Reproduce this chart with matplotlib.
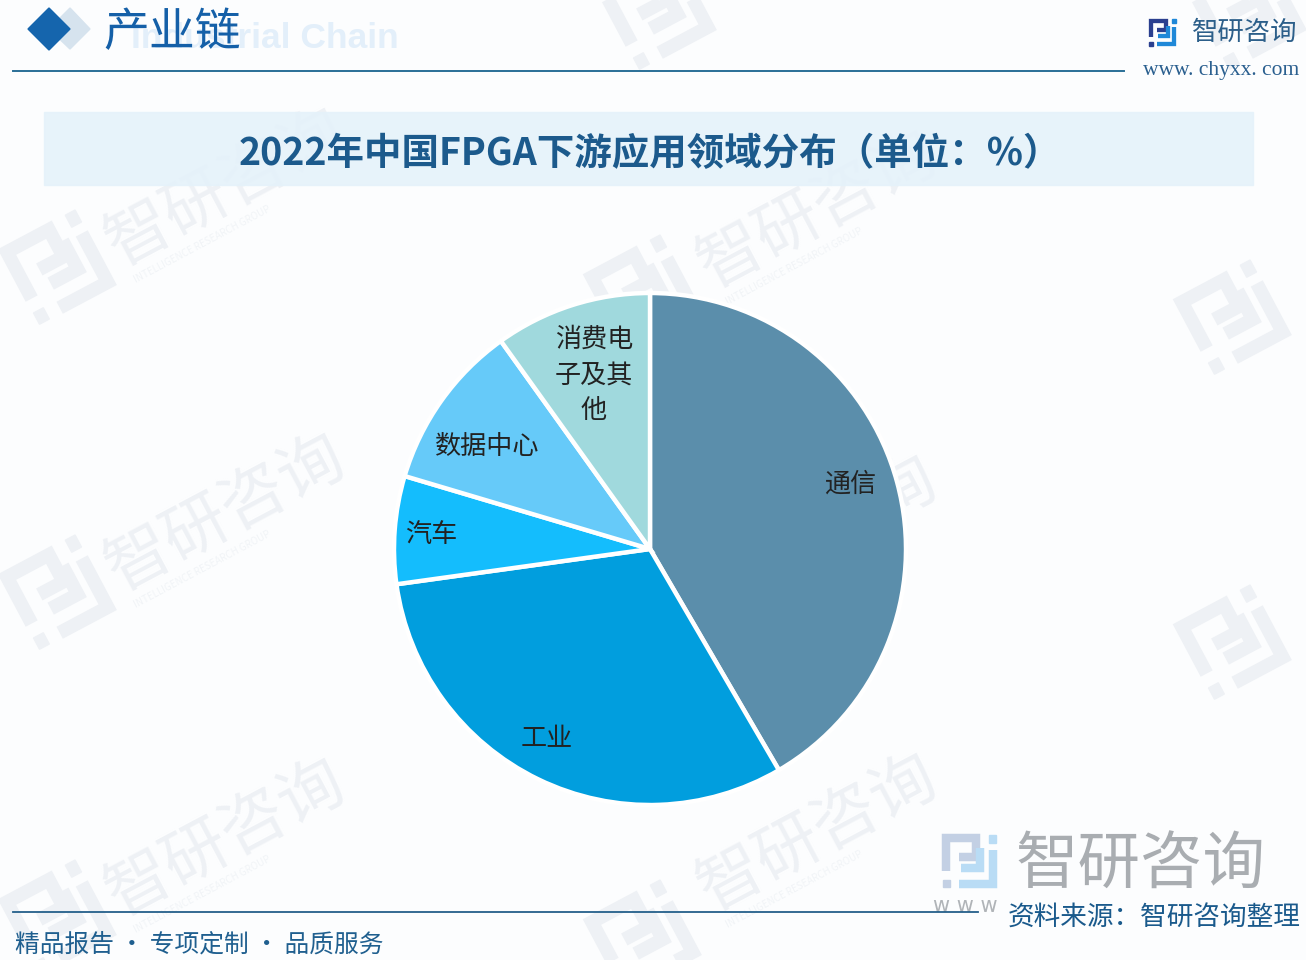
import matplotlib
matplotlib.use('Agg')
import matplotlib.pyplot as plt
from matplotlib.patches import Polygon, Rectangle
from matplotlib.transforms import Affine2D

plt.rcParams['font.family'] = ['Noto Sans CJK SC', 'DejaVu Sans']

categories = ['通信', '工业', '汽车', '数据中心', '消费电\n子及其\n他']
shares = [41.6, 31.2, 6.8, 10.5, 9.9]
colors = ['#5b8eab', '#019ede', '#14bdfd', '#66caf9', '#a0d9dd']
label_pos = [(850, 484), (547, 739), (431, 534), (487, 446), (594, 375)]
title = '2022年中国FPGA下游应用领域分布（单位：%）'
W, H = 1306, 960

fig = plt.figure(figsize=(W / 100, H / 100), dpi=100, facecolor='#fcfdfe')
bg = fig.add_axes([0, 0, 1, 1])
bg.set_xlim(0, W)
bg.set_ylim(H, 0)
bg.axis('off')

# watermarks
wm = '#eef1f5'
for (x, y) in [(110, 250), (702, 272), (110, 575), (702, 597), (110, 900), (702, 895)]:
    bg.text(x, y, '智研咨询', fontsize=47, color=wm, rotation=28, rotation_mode='anchor',
            ha='left', va='center', zorder=1)
    bg.text(x + 25, y + 30, 'INTELLIGENCE RESEARCH GROUP', fontsize=7, color='#f1f4f7',
            rotation=28, rotation_mode='anchor', ha='left', va='center', zorder=1)

def logo(x, y, s, c1, c2, z=1, angle=0):
    lw = s * .12 * 0.72 * 100 / 72 * 0.72
    tr = Affine2D().translate(x, y).scale(1) 
    if angle:
        tr = Affine2D().rotate_deg_around(.5, .5, angle)
    else:
        tr = Affine2D()
    tr = tr.scale(s).translate(x, y) + bg.transData
    kw = dict(lw=s * .115, solid_capstyle='butt', solid_joinstyle='miter', transform=tr, zorder=z)
    bg.plot([.06, .06, .62, .62, .3], [.68, .06, .06, .42, .42], color=c1, **kw)
    bg.add_patch(Rectangle((0, .84), .13, .15, color=c1, zorder=z, transform=tr))
    bg.plot([.94, .94, .3], [.28, .93, .93], color=c2, **kw)
    bg.plot([.7, .7, .34], [.25, .63, .63], color=c2, **kw)
    bg.add_patch(Rectangle((.87, 0), .13, .16, color=c2, zorder=z, transform=tr))

for (x, y) in [(15, 225), (600, 250), (1190, 275), (15, 550), (1190, 600), (15, 875), (600, 895), (615, -30), (1205, -30)]:
    logo(x, y, 85, wm, wm, angle=-28)

# header
bg.add_patch(Polygon([(70, 8), (90, 29), (70, 49), (49, 29)], closed=True, color='#d6e3ee', zorder=2))
bg.add_patch(Polygon([(49, 8), (70, 29), (49, 50), (28, 29)], closed=True, color='#1565ad', zorder=3))
bg.text(265, 39, 'Industrial Chain', fontsize=25.5, fontweight='bold', color='#e3effa',
        family=['Liberation Sans'], ha='center', va='center', zorder=2)
bg.text(172, 33, '产业链', fontsize=33, color='#1560a8', ha='center', va='center', zorder=3)
bg.plot([13, 1124], [71, 71], color='#2a6f97', lw=1.4, zorder=3)
logo(1149, 19, 27, '#2a3f8f', '#1f88d8', z=3)
bg.text(1245, 32, '智研咨询', fontsize=19, color='#2c5f8a', ha='center', va='center', zorder=3)
bg.text(1221, 71, 'www. chyxx. com', fontsize=15.5, color='#2a5f8f', family=['Liberation Serif'],
        ha='center', va='center', zorder=3)

# title band
bg.add_patch(Rectangle((44, 112), 1209, 73, color='#e5f2fa', alpha=.9, zorder=2))
bg.text(650, 154, title, fontsize=27, fontweight='bold', color='#1c5a8c', ha='center', va='center', zorder=3)

# footer
logo(943, 835, 53, '#c3d0e4', '#b9dcf5', z=3)
bg.text(1141, 866, '智研咨询', fontsize=45, color='#a9adb1', ha='center', va='center', zorder=3)
bg.text(965, 906, 'w w w', fontsize=15, color='#b0b4b8', family=['DejaVu Sans'], ha='center', va='center', zorder=3)
bg.plot([13, 978], [912, 912], color='#245f8a', lw=1.3, zorder=3)
bg.text(1154, 917, '资料来源：智研咨询整理', fontsize=19.2, color='#1a5a8c', ha='center', va='center', zorder=4)
bg.text(199, 945, '精品报告 · 专项定制 · 品质服务', fontsize=17.8, color='#1f5f8f', ha='center', va='center', zorder=4)

# pie
R = 256
cx, cy = 650, 549
ax = fig.add_axes([(cx - R) / W, 1 - (cy + R) / H, 2 * R / W, 2 * R / H])
ax.pie(shares, colors=colors, startangle=90, counterclock=False, radius=1,
       wedgeprops=dict(edgecolor='white', linewidth=3.2))
ax.set_xlim(-1, 1)
ax.set_ylim(-1, 1)
ax.set_zorder(5)
ax.patch.set_visible(False)

top = fig.add_axes([0, 0, 1, 1], zorder=6)
top.set_xlim(0, W)
top.set_ylim(H, 0)
top.axis('off')
for name, (x, y) in zip(categories, label_pos):
    top.text(x, y, name, fontsize=18.8, color='#222222', ha='center', va='center', linespacing=1.42)

fig.savefig('out.png', dpi=100, facecolor=fig.get_facecolor())
